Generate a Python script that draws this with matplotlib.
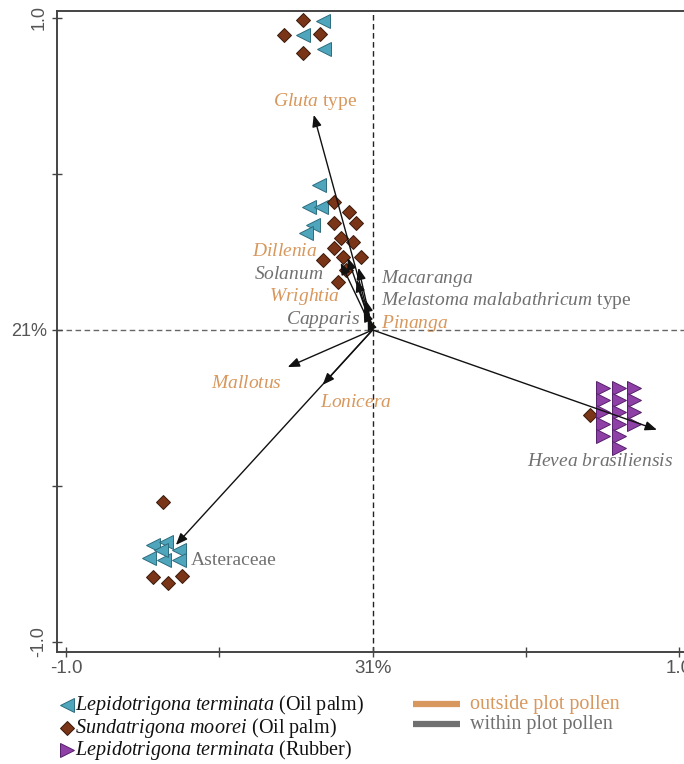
import matplotlib
matplotlib.use("Agg")
import matplotlib.pyplot as plt

plt.rcParams['font.family'] = ['Liberation Serif', 'DejaVu Serif']
plt.rcParams['mathtext.fontset'] = 'custom'
plt.rcParams['mathtext.rm'] = 'Liberation Serif'
plt.rcParams['mathtext.it'] = 'Liberation Serif:italic'

# ---------------- data ----------------
taxa = ["Gluta type", "Dillenia", "Solanum", "Wrightia", "Capparis", "Macaranga",
        "Melastoma malabathricum type", "Pinanga", "Mallotus", "Lonicera",
        "Hevea brasiliensis", "Asteraceae"]
taxa_tex = [r"$\mathit{Gluta}$ type", r"$\mathit{Dillenia}$", r"$\mathit{Solanum}$",
            r"$\mathit{Wrightia}$", r"$\mathit{Capparis}$", r"$\mathit{Macaranga}$",
            r"$\mathit{Melastoma\ malabathricum}$ type", r"$\mathit{Pinanga}$",
            r"$\mathit{Mallotus}$", r"$\mathit{Lonicera}$",
            r"$\mathit{Hevea\ brasiliensis}$", "Asteraceae"]
taxa_origin = ["outside", "outside", "within", "outside", "within", "within",
               "within", "outside", "outside", "outside", "within", "within"]
arrow_x = [-0.192, -0.104, -0.081, -0.052, -0.029, -0.046, -0.016, -0.023, -0.277, -0.163, 0.928, -0.642]
arrow_y = [0.689, 0.215, 0.231, 0.160, 0.064, 0.199, 0.038, 0.096, -0.119, -0.176, -0.320, -0.689]

lt_oil_x = [-0.163, -0.228, -0.160, -0.176, -0.208, -0.169, -0.195, -0.218,
            -0.717, -0.674, -0.632, -0.730, -0.681, -0.632, -0.691]
lt_oil_y = [0.990, 0.946, 0.901, 0.465, 0.394, 0.394, 0.337, 0.311,
            -0.689, -0.679, -0.705, -0.731, -0.737, -0.737, -0.705]

sm_oil_x = [-0.228, -0.290, -0.173, -0.228,
            -0.127, -0.078, -0.127, -0.055, -0.104, -0.065, -0.127, -0.039, -0.098, -0.163, -0.088, -0.114,
            -0.717, -0.668, -0.622, -0.684, 0.710]
sm_oil_y = [0.994, 0.946, 0.949, 0.888,
            0.410, 0.378, 0.343, 0.343, 0.295, 0.282, 0.263, 0.234, 0.234, 0.224, 0.192, 0.154,
            -0.792, -0.811, -0.788, -0.551, -0.272]

lt_rub_x = [0.752, 0.752, 0.752, 0.752, 0.752,
            0.805, 0.805, 0.805, 0.805, 0.805, 0.805,
            0.853, 0.853, 0.853, 0.853]
lt_rub_y = [-0.186, -0.224, -0.263, -0.301, -0.340,
            -0.186, -0.224, -0.263, -0.301, -0.340, -0.378,
            -0.186, -0.224, -0.263, -0.301]

x_ticks = [-1.0, -0.5, 0.0, 0.5, 1.0]
x_ticklabels = ["-1.0", "", "31%", "", "1.0"]
y_ticks = [1.0, 0.5, 0.0, -0.5, -1.0]
y_ticklabels = ["1.0", "", "21%", "", "-1.0"]

legend_species = [r"$\mathit{Lepidotrigona\ terminata}$ (Oil palm)",
                  r"$\mathit{Sundatrigona\ moorei}$ (Oil palm)",
                  r"$\mathit{Lepidotrigona\ terminata}$ (Rubber)"]
legend_pollen = ["outside plot pollen", "within plot pollen"]

# ---------------- styles ----------------
ORANGE = "#D8975C"
GREY = "#707070"
CYAN = "#4FA6BC"
CYAN_E = "#2C6C7E"
BROWN = "#7A3518"
BROWN_E = "#3A180A"
PURPLE = "#8E40A6"
PURPLE_E = "#55206A"
text_col = {"outside": ORANGE, "within": GREY}

W, H = 684, 764
fig = plt.figure(figsize=(W / 100, H / 100), dpi=100)
ax = fig.add_axes([57 / W, 1 - 652 / H, (690 - 57) / W, (652 - 11) / H])
ax.set_xlim(-1.03, 1.036)
ax.set_ylim(-1.032, 1.022)

for s in ["left", "bottom", "top"]:
    ax.spines[s].set_color("#444444")
    ax.spines[s].set_linewidth(1.4)
ax.spines["right"].set_visible(False)

ax.axhline(0, color="#666666", lw=1.0, ls=(0, (4, 2.5)), zorder=1)
ax.axvline(0, color="#222222", lw=1.0, ls=(0, (4, 2.5)), zorder=1)

ax.plot(lt_oil_x, lt_oil_y, ls="none", marker="<", ms=10, mfc=CYAN, mec=CYAN_E, mew=0.7, zorder=3)
ax.plot(sm_oil_x, sm_oil_y, ls="none", marker="D", ms=7.5, mfc=BROWN, mec=BROWN_E, mew=0.7, zorder=3)
ax.plot(lt_rub_x, lt_rub_y, ls="none", marker=">", ms=10, mfc=PURPLE, mec=PURPLE_E, mew=0.7, zorder=3)

for xe, ye in zip(arrow_x, arrow_y):
    ax.annotate("", xy=(xe, ye), xytext=(0, 0),
                arrowprops=dict(arrowstyle="-|>,head_length=0.5,head_width=0.2", color="#111111", lw=1.0,
                                mutation_scale=14, shrinkA=0, shrinkB=0),
                zorder=4)

label_pos = {
    "Gluta type": (-0.186, 0.731, "center"),
    "Dillenia": (-0.179, 0.250, "right"),
    "Solanum": (-0.160, 0.178, "right"),
    "Wrightia": (-0.107, 0.106, "right"),
    "Capparis": (-0.042, 0.033, "right"),
    "Macaranga": (0.026, 0.166, "left"),
    "Melastoma malabathricum type": (0.026, 0.093, "left"),
    "Pinanga": (0.026, 0.020, "left"),
    "Mallotus": (-0.528, -0.173, "left"),
    "Lonicera": (-0.173, -0.234, "left"),
    "Hevea brasiliensis": (0.505, -0.423, "left"),
    "Asteraceae": (-0.593, -0.740, "left"),
}
for name, tex, org in zip(taxa, taxa_tex, taxa_origin):
    lx, ly, ha = label_pos[name]
    ax.text(lx, ly, tex, color=text_col[org], fontsize=14, ha=ha, va="center", zorder=5)

ax.set_xticks(x_ticks)
ax.set_xticklabels(x_ticklabels)
ax.set_yticks(y_ticks)
ax.set_yticklabels(y_ticklabels)
ax.tick_params(axis="both", direction="inout", length=7, width=1.0, color="#444444",
               labelcolor="#555555", labelsize=13)
ax.tick_params(axis="x", pad=2, labelsize=13.5)
for lab in ax.get_xticklabels() + ax.get_yticklabels():
    lab.set_family(["Liberation Sans", "DejaVu Sans"])
ylabs = ax.get_yticklabels()
ylabs[0].set_rotation(90); ylabs[0].set_va("center")
ylabs[4].set_rotation(90); ylabs[4].set_va("center")

# ---------------- legend (pixel overlay) ----------------
lg = fig.add_axes([0, 0, 1, 1])
lg.set_xlim(0, W)
lg.set_ylim(H, 0)
lg.axis("off")
leg_markers = [("<", CYAN, CYAN_E), ("D", BROWN, BROWN_E), (">", PURPLE, PURPLE_E)]
for i, (lab, (m, fc, ec)) in enumerate(zip(legend_species, leg_markers)):
    yy = 705 + i * 22.5
    lg.plot([67], [yy], marker=m, ms=10 if m != "D" else 7.5, mfc=fc, mec=ec, mew=0.7, ls="none")
    lg.text(75, yy, lab, fontsize=14.5, ha="left", va="center", color="#111111")
for i, (lab, col) in enumerate(zip(legend_pollen, [ORANGE, GREY])):
    yy = 704 + i * 20
    lg.plot([413, 460], [yy, yy], color=col, lw=4.5, solid_capstyle="butt")
    lg.text(470, yy, lab, fontsize=14.5, ha="left", va="center", color=col)

fig.savefig("out.png", dpi=100)
